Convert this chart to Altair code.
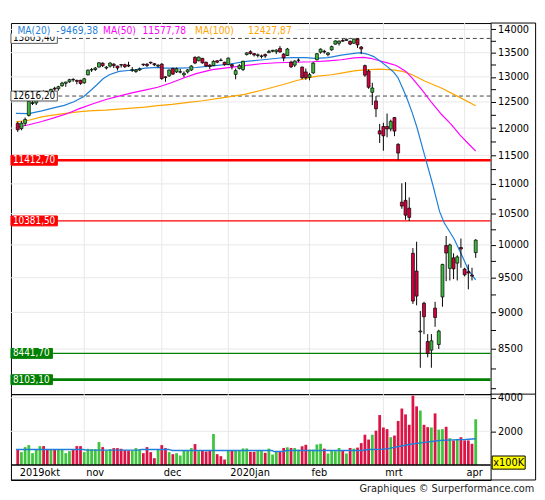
import altair as alt
import pandas as pd

FONT = "DejaVu Sans Condensed, DejaVu Sans"

# ---------------- data (trading-day index, first visible day = 4 : 8 Oct 2019) ----------------
first_index = 4
opens = [12090, 11990, 12090, 12240, 12470, 12480, 12620, 12700, 12680, 12700, 12770, 12760, 12820, 12870, 12900,
         12950, 12930, 12930, 12880, 13040, 13140, 13150, 13200, 13280, 13180, 13220, 13260, 13220, 13250, 13250,
         13240, 13130, 13110, 13140, 13260, 13260, 13300, 13270, 13220, 13260, 13000, 13020, 13170, 13100, 13095,
         13040, 13100, 13140, 13400, 13330, 13380, 13300, 13240, 13230, 13330, 13345, 13300, 13250, 13250, 13050,
         13170, 13150, 13460, 13520, 13480, 13440, 13420, 13460, 13500, 13530, 13520, 13590, 13470, 13440, 13300,
         13240, 13340, 13200, 13100, 12990, 13080, 13350, 13510, 13530, 13460, 13560, 13680, 13700, 13760, 13760,
         13740, 13700, 13790, 13620, 13230, 13120, 12690, 12520, 11950, 12030, 12030, 11985, 12200, 11700, 10690,
         10720, 10590, 9870, 9600, 8730, 9130, 8600, 8485, 9060, 8560, 9220, 9990, 9640, 9800, 9720,
         9960, 9630, 9590, 9540, 9880]
highs = [12120, 12130, 12200, 12560, 12540, 12650, 12690, 12730, 12700, 12760, 12800, 12820, 12900, 12900, 12960,
         12970, 12940, 12940, 12980, 13150, 13180, 13200, 13300, 13300, 13220, 13300, 13280, 13230, 13260, 13270,
         13310, 13200, 13160, 13190, 13270, 13280, 13310, 13280, 13260, 13280, 13010, 13150, 13190, 13190, 13160,
         13110, 13160, 13240, 13425, 13420, 13390, 13310, 13260, 13340, 13340, 13380, 13310, 13400, 13270, 13170,
         13260, 13330, 13510, 13550, 13490, 13480, 13460, 13480, 13560, 13560, 13570, 13640, 13490, 13600, 13330,
         13340, 13380, 13210, 13170, 13080, 13300, 13490, 13590, 13560, 13510, 13650, 13760, 13760, 13790, 13800,
         13760, 13803.4, 13800, 13640, 13250, 13150, 12880, 12616, 12080, 12100, 12276, 12160, 12210, 11720, 11010,
         11030, 10770, 9950, 10050, 9020, 9150, 8700, 8700, 9150, 8760, 9710, 10140, 10020, 9870, 9840,
         10100, 9650, 9700, 9650, 10090]
lows = [11930, 11960, 12040, 12220, 12440, 12440, 12600, 12620, 12600, 12680, 12720, 12720, 12800, 12800, 12880,
        12900, 12850, 12840, 12860, 13030, 13100, 13120, 13190, 13200, 13150, 13190, 13180, 13130, 13190, 13180,
        13200, 13100, 13080, 13120, 13220, 13200, 13260, 13220, 13190, 12940, 12900, 13000, 13040, 13080, 13070,
        12990, 13070, 13120, 13260, 13320, 13270, 13200, 13160, 13220, 13280, 13320, 13230, 13240, 13150, 12950,
        13150, 13120, 13440, 13460, 13420, 13400, 13380, 13390, 13490, 13510, 13470, 13500, 13320, 13430, 13180,
        13200, 13300, 12950, 12940, 12930, 13060, 13340, 13480, 13480, 13420, 13540, 13670, 13650, 13730, 13750,
        13660, 13690, 13600, 13470, 13000, 12760, 12440, 12210, 11724, 11585, 11830, 11940, 11850, 11412.7, 10580,
        10400, 10381.5, 9120, 9100, 8255, 8700, 8390, 8255, 8800, 8500, 9080, 9450, 9460, 9480, 9460,
        9650, 9520, 9330, 9460, 9800]
closes = [11970, 12094, 12164, 12512, 12486, 12630, 12670, 12655, 12634, 12748, 12754, 12801, 12873, 12895, 12942,
          12940, 12910, 12867, 12961, 13136, 13148, 13180, 13289, 13229, 13198, 13283, 13230, 13180, 13241, 13207,
          13221, 13148, 13138, 13164, 13246, 13232, 13287, 13245, 13236, 12965, 12989, 13140, 13055, 13166, 13105,
          13071, 13141, 13221, 13283, 13407, 13287, 13222, 13212, 13319, 13300, 13337, 13249, 13386, 13219, 13127,
          13227, 13321, 13495, 13483, 13452, 13456, 13432, 13430, 13526, 13549, 13556, 13515, 13389, 13577, 13205,
          13324, 13345, 12982, 12982, 13045, 13282, 13479, 13575, 13514, 13494, 13627, 13750, 13745, 13744, 13784,
          13681, 13789, 13665, 13579, 13035, 12790, 12775, 12367, 11890, 11857, 11985, 12128, 11944, 11542, 10625,
          10475, 10439, 9161, 9232, 8742, 8939, 8441.7, 8610, 8929, 8741, 9700, 9874, 10000, 9633, 9815,
          9936, 9544, 9571, 9526, 10075]
volumes = [940, 760, 1060, 1180, 700, 900, 1120, 1120, 900, 940, 900, 900, 900, 700, 820,
           900, 1120, 1120, 760, 960, 940, 940, 1360, 1060, 860, 940, 1000, 1000, 960, 880,
           860, 860, 1000, 920, 700, 1060, 760, 400, 940, 1180, 1000, 760, 640, 700, 560,
           860, 860, 1000, 1240, 820, 860, 800, 860, 1840, 640, 520, 320, 860, 860, 860,
           860, 980, 980, 780, 780, 830, 830, 720, 970, 620, 780, 830, 1010, 1050, 1010,
           1010, 910, 1110, 1200, 910, 910, 1220, 1260, 970, 680, 870, 820, 1010, 830, 680,
           1010, 970, 1030, 1300, 1800, 1510, 1800, 2040, 2970, 2230, 2130, 1650, 1750, 2620, 3360,
           3010, 2390, 4130, 3490, 3240, 2390, 2250, 2230, 3070, 2100, 2130, 2270, 1590, 1460, 1550,
           1650, 1460, 1460, 1260, 2720]  # x100K

# moving averages (trading-day index, value)
ma20_idx = [3.5, 7.0, 10.5, 14.0, 16.6, 19.2, 21.8, 23.5, 25.3, 27.1, 28.8, 31.4, 34.0, 35.8, 38.4, 41.9, 43.6,
            48.0, 52.3, 56.7, 61.1, 65.4, 69.8, 75.0, 78.5, 82.0, 84.6, 88.1, 91.6, 95.1, 96.8, 98.6, 100.4,
            102.1, 103.8, 105.6, 106.9, 108.2, 109.5, 110.8, 112.1, 114.3, 116.4, 118.2, 119.5, 122.2, 124.3,
            126.1, 128]
ma20_val = [12281, 12276, 12326, 12389, 12434, 12504, 12601, 12712, 12830, 12961, 13042, 13110, 13130, 13142,
            13177, 13195, 13177, 13177, 13191, 13224, 13258, 13313, 13347, 13388, 13396, 13396, 13381, 13396,
            13450, 13485, 13500, 13471, 13417, 13326, 13224, 13110, 12990, 12777, 12548, 12294, 12012, 11470,
            10980, 10537, 10349, 10089, 9831, 9607, 9469.38]
ma50_idx = [3.5, 7.0, 10.5, 14.0, 17.5, 20.9, 24.4, 27.9, 31.4, 34.9, 38.4, 41.9, 45.4, 48.9, 52.3, 56.7, 61.1,
            65.4, 69.8, 74.2, 79.0, 83.8, 88.1, 91.6, 95.1, 97.7, 99.5, 101.2, 103.8, 106.5, 109.1, 110.8,
            113.4, 116.1, 118.7, 121.3, 123.9, 126.5, 128]
ma50_val = [12012, 12063, 12124, 12199, 12276, 12376, 12466, 12548, 12615, 12679, 12732, 12791, 12876, 12976,
            13066, 13147, 13187, 13228, 13269, 13289, 13300, 13310, 13330, 13351, 13392, 13402, 13382, 13347,
            13293, 13232, 13110, 12976, 12744, 12485, 12262, 12074, 11860, 11679, 11577.78]
ma100_idx = [3.5, 7.0, 10.5, 14.0, 17.5, 20.9, 24.4, 27.9, 31.4, 34.9, 38.4, 41.9, 45.8, 50.2, 54.1, 59.3,
             65.4, 71.6, 75.9, 80.3, 84.7, 89.0, 91.6, 95.1, 97.7, 102.1, 105.6, 108.2, 110.8, 114.3, 118.7,
             123.0, 128]
ma100_val = [12119, 12149, 12213, 12250, 12284, 12313, 12332, 12341, 12360, 12380, 12399, 12428, 12452, 12491,
             12524, 12581, 12650, 12760, 12845, 12942, 13010, 13042, 13076, 13122, 13142, 13157, 13142, 13110,
             13042, 12910, 12777, 12615, 12427.87]
volma_idx = [3.5, 21.8, 22.7, 36.6, 37.5, 44.9, 45.8, 72.9, 73.3, 75.9, 76.8, 97.3, 99.0, 102.5, 104.3,
             107.8, 111.2, 114.7, 118.2, 121.7, 125.2, 128]
volma_val = [920, 920, 880, 880, 920, 920, 860, 860, 800, 800, 860, 860, 920, 930, 970, 1125, 1260, 1360,
             1455, 1495, 1515, 1560]

# horizontal levels
top_levels = [13803.4, 12616.2]        # dashed
red_levels = [11412.7, 10381.5]
green_levels = [8441.7, 8103.1]

month_labels = ["2019okt", "nov", "dec", "2020jan", "feb", "mrt", "apr"]
month_idx = [4, 22, 43, 61, 83, 103, 125]

price_ticks = list(range(8000, 14001, 250))
price_grid = list(range(8500, 14001, 500))
vol_ticks = [2000, 4000]


def fmt(v):
    return f"{v:.2f}".replace(".", ",")


# ---------------- styling ----------------
BLUE = "#1f7fd9"
MAG = "#ff00ff"
ORA = "#ffa500"
CG, CR = "#3cb93c", "#d4003c"
VG, VR = "#3ec43e", "#dc1446"
GRID = "#e8e8e8"
W, HM, HV = 486, 376, 87

X = alt.Scale(domain=[3.5, 130.7], nice=False, zero=False)
YP = alt.Scale(type="log", domain=[7922, 14139], nice=False, zero=False)
YV = alt.Scale(domain=[-900, 4218], nice=False, zero=False)

yaxis = alt.Axis(orient="right", values=price_ticks,
                 labelExpr="datum.value % 500 == 0 && datum.value >= 8500 ? format(datum.value, 'd') : ''",
                 tickSize=5, tickColor="black", labelColor="black", labelFont=FONT, labelFontSize=11,
                 labelPadding=2, domain=False, grid=False, title=None, labelOverlap=False)
vaxis = alt.Axis(orient="right", values=vol_ticks, format="d", tickSize=5, tickColor="black",
                 labelColor="black", labelFont=FONT, labelFontSize=11, labelPadding=2, domain=False,
                 grid=False, title=None)


def YPf(field):
    return alt.Y(field, scale=YP, axis=yaxis)


def YVf(field):
    return alt.Y(field, scale=YV, axis=vaxis)


n = len(closes)
candles = pd.DataFrame({
    "i": list(range(first_index, first_index + n)),
    "open": opens, "high": highs, "low": lows, "close": closes, "volume": volumes,
})
candles["base"] = 0

xi = alt.X("i:Q", scale=X, axis=None)

# ---------------- main panel ----------------
hgrid = alt.Chart(pd.DataFrame({"p": price_grid})).mark_rule(color=GRID).encode(y=YPf("p:Q"))
vgrid = alt.Chart(pd.DataFrame({"i": month_idx[1:]})).mark_rule(color=GRID).encode(x=xi)

layers = [hgrid, vgrid]


def lvl(value, **kw):
    return alt.Chart(pd.DataFrame({"p": [value]})).mark_rule(**kw).encode(y=YPf("p:Q"))


layers.append(lvl(top_levels[0], color="#444444", strokeWidth=1, strokeDash=[4, 3]))
layers.append(lvl(top_levels[1], color="#444444", strokeWidth=1, strokeDash=[4, 3]))
layers.append(lvl(red_levels[0], color="#ff0000", strokeWidth=2.6))
layers.append(lvl(red_levels[1], color="#ff0000", strokeWidth=1.4))
layers.append(lvl(green_levels[0], color="#008000", strokeWidth=1.4))
layers.append(lvl(green_levels[1], color="#008000", strokeWidth=2.6))


def ma_line(idx, vals, color):
    return alt.Chart(pd.DataFrame({"i": idx, "v": vals})).mark_line(color=color, strokeWidth=1.2).encode(
        x=xi, y=YPf("v:Q"))


layers += [ma_line(ma100_idx, ma100_val, ORA), ma_line(ma50_idx, ma50_val, MAG), ma_line(ma20_idx, ma20_val, BLUE)]

cbase = alt.Chart(candles)
wicks = cbase.mark_rule(color="black", strokeWidth=1).encode(x=xi, y=YPf("low:Q"), y2="high:Q")
bodies = cbase.mark_bar(size=3, stroke="black", strokeWidth=0.7).encode(
    x=xi, y=YPf("open:Q"), y2="close:Q",
    color=alt.condition("datum.close >= datum.open", alt.value(CG), alt.value(CR)))
layers += [wicks, bodies]

BOX8 = "M0,-1H9.4V1H0Z"
BOX7 = "M0,-1H8.4V1H0Z"


def box(value, fill, stroke, tcolor):
    txt = fmt(value)
    df = pd.DataFrame({"p": [value], "t": [txt]})
    path = BOX8 if len(txt) >= 8 else BOX7
    b = alt.Chart(df).mark_point(shape=path, size=100, filled=True, fill=fill, stroke=stroke,
                                 strokeWidth=1, opacity=1).encode(x=alt.value(0), y=YPf("p:Q"))
    t = alt.Chart(df).mark_text(align="left", baseline="middle", font=FONT, fontSize=10, color=tcolor).encode(
        x=alt.value(2), y=YPf("p:Q"), text="t:N")
    return [b, t]


for v in top_levels:
    layers += box(v, "white", "#555555", "black")
for v in red_levels:
    layers += box(v, "#ff0000", "#ff0000", "white")
for v in green_levels:
    layers += box(v, "#008000", "#008000", "white")

one = pd.DataFrame({"a": [0]})
layers.append(alt.Chart(one).mark_rect(color="white").encode(
    x=alt.value(1), x2=alt.value(290), y=alt.value(1), y2=alt.value(14)))

legend_items = [
    ("MA(20)", BLUE, 6.6), ("-", BLUE, 46.0), (fmt(ma20_val[-1]), BLUE, 50.0),
    ("MA(50)", MAG, 93.3), (fmt(ma50_val[-1]), MAG, 133.3),
    ("MA(100)", ORA, 186.6), (fmt(ma100_val[-1]), ORA, 240.3),
]
for txt, col, xp in legend_items:
    layers.append(alt.Chart(one).mark_text(text=txt, align="left", baseline="middle", font=FONT,
                                           fontSize=10.3, color=col).encode(x=alt.value(xp), y=alt.value(7.7)))

# outer frame pieces around the right axis
layers.append(alt.Chart(one).mark_rule(color="black").encode(x=alt.value(W), x2=alt.value(531.6), y=alt.value(0)))
layers.append(alt.Chart(one).mark_rule(color="black").encode(x=alt.value(W), x2=alt.value(531.6), y=alt.value(HM)))
layers.append(alt.Chart(one).mark_rule(color="black").encode(x=alt.value(531.6), y=alt.value(0), y2=alt.value(HM)))

main = alt.layer(*layers).properties(width=W, height=HM)

# ---------------- volume panel ----------------
vl = []
vl.append(alt.Chart(pd.DataFrame({"v": vol_ticks})).mark_rule(color=GRID).encode(y=YVf("v:Q")))
vg = pd.DataFrame({"i": month_idx[1:]})
vg["lo"] = 0
vg["hi"] = 4218
vl.append(alt.Chart(vg).mark_rule(color=GRID).encode(x=xi, y=YVf("lo:Q"), y2="hi:Q"))
vl.append(cbase.mark_bar(size=2.8).encode(
    x=xi, y=YVf("volume:Q"), y2="base:Q",
    color=alt.condition("datum.close >= datum.open", alt.value(VG), alt.value(VR))))
vl.append(alt.Chart(pd.DataFrame({"i": volma_idx, "v": volma_val})).mark_line(color=BLUE, strokeWidth=1.4).encode(
    x=xi, y=YVf("v:Q")))
vl.append(alt.Chart(pd.DataFrame({"v": [0]})).mark_rule(color="black", strokeWidth=1.5).encode(y=YVf("v:Q")))
vl.append(alt.Chart(pd.DataFrame({"i": month_idx, "t": month_labels})).mark_text(
    align="left", baseline="middle", dx=2, font=FONT, fontSize=11, color="black").encode(
    x=xi, y=alt.value(79.5), text="t:N"))
vl.append(alt.Chart(one).mark_rect(fill="#ffff00", stroke="black", strokeWidth=1).encode(
    x=alt.value(487.6), x2=alt.value(521), y=alt.value(62.7), y2=alt.value(76)))
vl.append(alt.Chart(one).mark_text(text="x100K", align="center", baseline="middle", font=FONT, fontSize=11,
                                   color="black").encode(x=alt.value(504.3), y=alt.value(69.5)))
vl.append(alt.Chart(one).mark_rule(color="black").encode(x=alt.value(531.6), y=alt.value(0), y2=alt.value(HV)))
vl.append(alt.Chart(one).mark_rule(color="black").encode(x=alt.value(0), x2=alt.value(531.6), y=alt.value(HV)))
vl.append(alt.Chart(one).mark_text(text="Graphiques \u00a9 Surperformance.com", align="right", baseline="middle",
                                   font=FONT, fontSize=11, color="#222222").encode(
    x=alt.value(530.3), y=alt.value(96.5)))

vol = alt.layer(*vl).properties(width=W, height=HV)

chart = alt.vconcat(main, vol, spacing=0, bounds="flush",
                    padding={"left": 0, "top": 11, "right": 0, "bottom": 0}).configure_view(
    stroke="black", strokeWidth=1)

chart.save("out.html", embed_options={"renderer": "svg", "actions": False})
